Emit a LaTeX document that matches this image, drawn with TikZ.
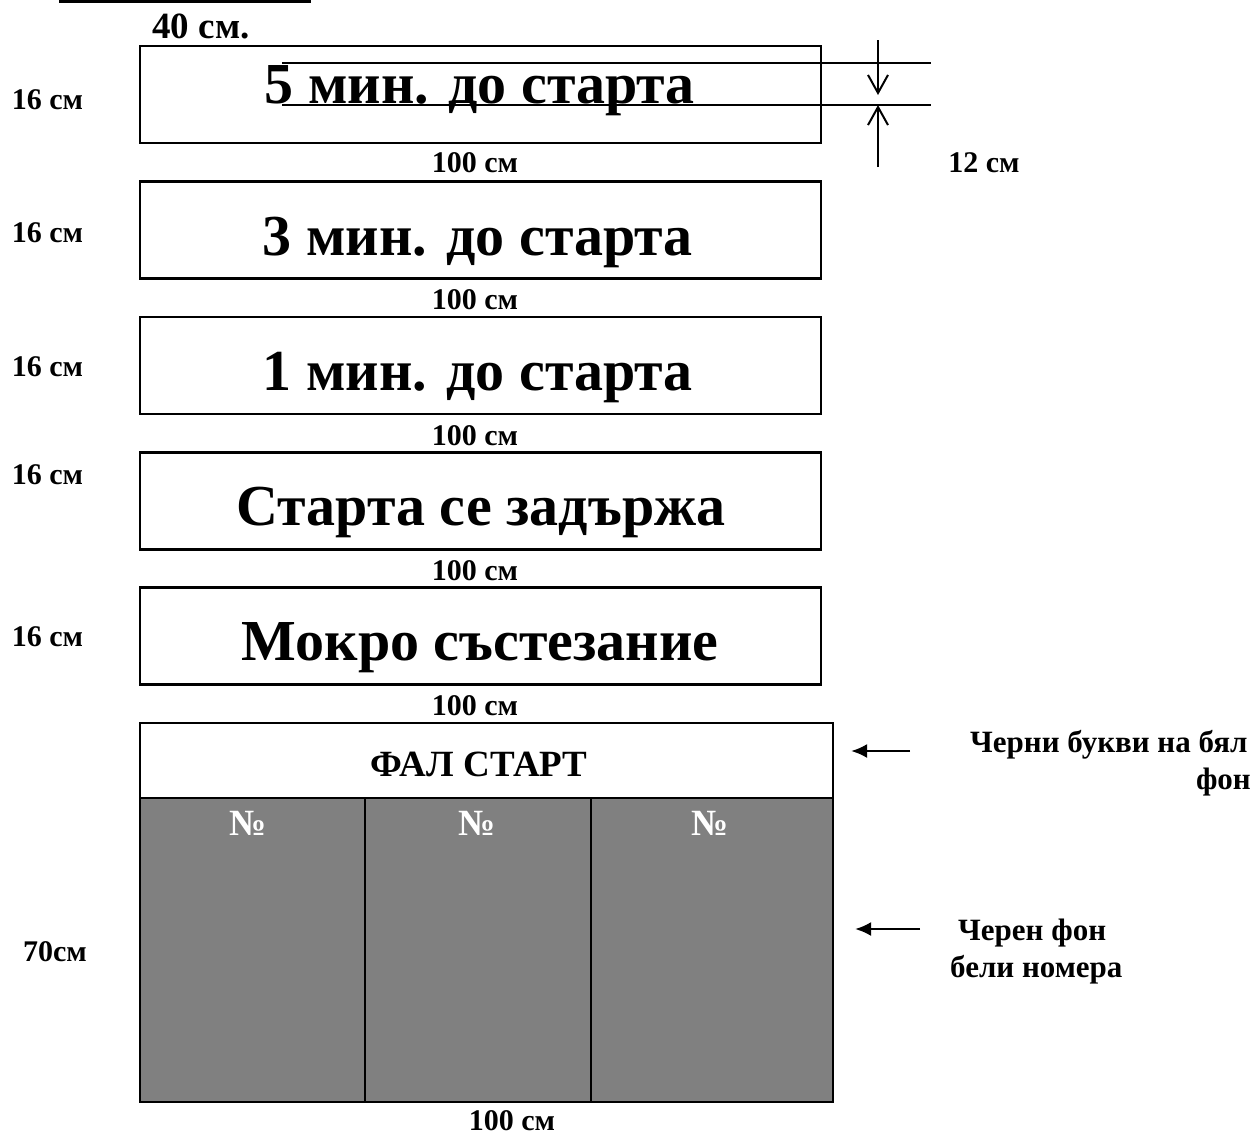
\documentclass[tikz,border=0pt]{standalone}
\usepackage{fontspec}
\setmainfont{Liberation Serif}
\usetikzlibrary{arrows.meta}
\begin{document}
\begin{tikzpicture}[x=1pt,y=-1pt,
  box/.style={draw,line width=2.5pt,fill=white,inner sep=0pt,minimum width=681pt,minimum height=97pt},
  cell/.style={draw,line width=2.5pt,fill={rgb,255:red,128;green,128;blue,128},inner sep=0pt,minimum height=304pt},
  lbl/.style={font=\bfseries\fontsize{30}{33}\selectfont,inner sep=0pt,anchor=base},
  big/.style={font=\bfseries\fontsize{58}{62}\selectfont,inner sep=0pt,anchor=base},
  side/.style={font=\bfseries\fontsize{31}{34}\selectfont,inner sep=0pt,anchor=base west},
  mid/.style={font=\bfseries\fontsize{37}{40}\selectfont,inner sep=0pt,anchor=base},
  dimline/.style={line width=2pt},
  dimarrow/.style={line width=2pt,-{Straight Barb[length=18pt,width=20pt,line width=2pt]}},
  ptr/.style={line width=2.5pt,-{Latex[length=16pt,width=14pt]}}
]
\useasboundingbox (0,0) rectangle (1258,1135);
\clip (0,0) rectangle (1258,1135);
\fill[white] (0,0) rectangle (1258,1135);

% partial box at the top
\draw[line width=2.5pt] (60,-20) rectangle (310,1.5);
\node[lbl,font=\bfseries\fontsize{37}{40}\selectfont] (w40) at (201,38) {40 см.};

% five signs
\node[box] (b1) at (480.5,94.5) {};
\node[box] (b2) at (480.5,230) {};
\node[box] (b3) at (480.5,365.5) {};
\node[box] (b4) at (480.5,501) {};
\node[box] (b5) at (480.5,636) {};

\node[big] (t1) at (480,103) {5 мин. до старта};
\node[big] (t2) at (478,255) {3 мин. до старта};
\node[big] (t3) at (478,390) {1 мин. до старта};
\node[big] (t4) at (481,525) {Старта се задържа};
\node[big] (t5) at (480,660) {Мокро състезание};

\node[lbl] (h1) at (47.5,109) {16 см};
\node[lbl] (h2) at (47.5,242) {16 см};
\node[lbl] (h3) at (47.5,376) {16 см};
\node[lbl] (h4) at (47.5,484) {16 см};
\node[lbl] (h5) at (47.5,646) {16 см};

\node[lbl] (w1) at (475,172) {100 см};
\node[lbl] (w2) at (475,309) {100 см};
\node[lbl] (w3) at (475,445) {100 см};
\node[lbl] (w4) at (475,580) {100 см};
\node[lbl] (w5) at (475,715) {100 см};

% 12 cm dimension
\coordinate (l1a) at (282,63);
\coordinate (l1b) at (931,63);
\coordinate (l2a) at (282,105);
\coordinate (l2b) at (931,105);
\draw[dimline] (l1a) -- (l1b);
\draw[dimline] (l2a) -- (l2b);
\coordinate (d1s) at (878,40);
\coordinate (d1e) at (878,95);
\coordinate (d2s) at (878,167);
\coordinate (d2e) at (878,105);
\draw[dimarrow] (d1s) -- (d1e);
\draw[dimarrow] (d2s) -- (d2e);
\node[lbl] (h12) at (984,172) {12 см};

% false start panel
\node[draw,line width=2.5pt,fill=white,inner sep=0pt,minimum width=693pt,minimum height=75pt] (fal) at (486.5,760.5) {};
\node[cell,minimum width=225pt] (c1) at (252.5,950) {};
\node[cell,minimum width=226pt] (c2) at (478,950) {};
\node[cell,minimum width=242pt] (c3) at (712,950) {};
\node[mid] (ft) at (479,776) {ФАЛ СТАРТ};
\node[mid,text=white] (n1) at (248,835) {№};
\node[mid,text=white] (n2) at (477,835) {№};
\node[mid,text=white] (n3) at (710,835) {№};
\node[lbl] (h70) at (55,961) {70см};
\node[lbl] (w6) at (512,1130) {100 см};

% notes
\coordinate (p1s) at (910,751);
\coordinate (p1e) at (851,751);
\draw[ptr] (p1s) -- (p1e);
\node[side] (s1) at (970,752) {Черни букви на бял};
\node[side,anchor=base east] (s2) at (1251,789) {фон};
\coordinate (p2s) at (920,929);
\coordinate (p2e) at (855,929);
\draw[ptr] (p2s) -- (p2e);
\node[side] (s3) at (958,940) {Черен фон};
\node[side] (s4) at (950,977) {бели номера};
\end{tikzpicture}
\end{document}
